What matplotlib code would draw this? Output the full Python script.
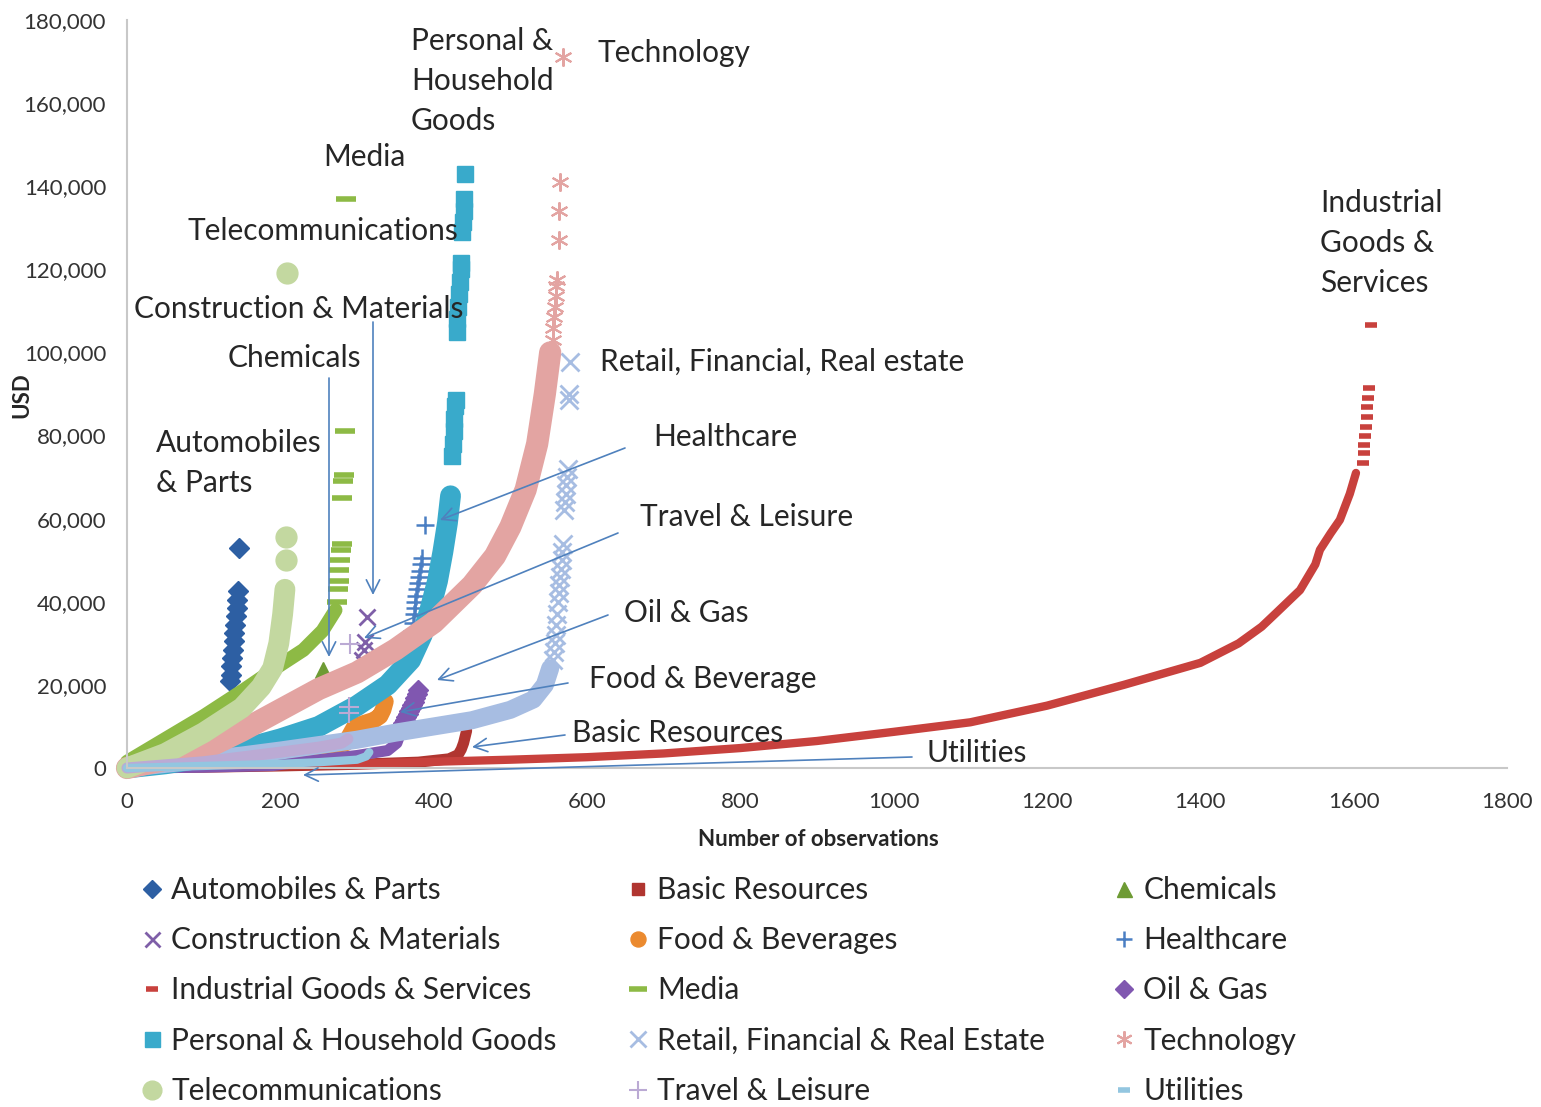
import matplotlib
matplotlib.use("Agg")
import matplotlib.pyplot as plt
from matplotlib.lines import Line2D
from matplotlib.ticker import FuncFormatter

plt.rcParams['font.family'] = ['Lato', 'DejaVu Sans']

W, H, DPI = 1541, 1107, 100

# ---------------- data ----------------
# each sector: sorted observations; "body" = dense part, "tail" = separated top markers
auto_x = [0, 40, 80, 110, 125, 132]
auto_y = [0, 1500, 4000, 7000, 10000, 11500]
auto_tx = [134, 135, 136, 137, 138, 139, 140, 141, 142, 143, 144, 145, 146]
auto_ty = [21000, 22500, 24500, 26500, 28500, 30500, 32500, 34500, 36500, 38500, 40500, 42500, 53000]

basic_x = [0, 100, 200, 300, 380, 420, 432, 436, 439, 441, 443]
basic_y = [0, 200, 500, 900, 1400, 2200, 3200, 4500, 6000, 7500, 9000]
basic_tx = []
basic_ty = []

chem_x = [0, 50, 100, 150, 200, 245]
chem_y = [0, 1500, 4000, 8500, 13500, 18000]
chem_tx = [256]
chem_ty = [23600]

constr_x = [0, 50, 100, 150, 200, 250, 300, 305]
constr_y = [0, 1500, 4000, 8500, 13500, 18500, 22500, 24000]
constr_tx = [307, 309, 311, 313]
constr_ty = [26000, 28500, 30300, 36300]

food_x = [0, 50, 100, 150, 200, 250, 285, 297, 310, 322, 330, 334, 337]
food_y = [0, 800, 1600, 2500, 3500, 4800, 6000, 10000, 10800, 11500, 12500, 14000, 16000]
food_tx = []
food_ty = []

health_x = [0, 100, 200, 300, 340, 365, 370]
health_y = [0, 2000, 5500, 13500, 18500, 25000, 30000]
health_tx = [372, 373, 374, 375, 376, 377, 378, 379, 381, 382, 383, 385, 389]
health_ty = [33000, 35000, 37000, 38500, 40000, 41500, 43000, 44500, 46000, 47500, 49000, 50500, 58500]

indus_x = [0, 100, 200, 300, 400, 500, 600, 700, 800, 900, 1000, 1100, 1200, 1300, 1400,
           1450, 1480, 1500, 1530, 1550, 1556, 1570, 1582, 1595, 1603]
indus_y = [0, 300, 600, 1000, 1500, 2000, 2600, 3500, 4800, 6500, 8700, 11000, 15000, 20000, 25300,
           30000, 34000, 37500, 42800, 49000, 52500, 56500, 59700, 66000, 71000]
indus_tx = [1612, 1613, 1614, 1615, 1616, 1617, 1618, 1619, 1620, 1622]
indus_ty = [73400, 75800, 77700, 80000, 82000, 84500, 86900, 89000, 91400, 106600]

media_x = [0, 50, 100, 150, 200, 230, 255, 272]
media_y = [1500, 7000, 12500, 18500, 24800, 28400, 33000, 38000]
media_tx = [274, 275, 276, 277, 278, 279, 280, 281, 282, 283, 284, 285]
media_ty = [40000, 43000, 45000, 47600, 50000, 52500, 54000, 65000, 69000, 70500, 81000, 137000]

oil_x = [0, 100, 190, 250, 300, 340, 352, 358]
oil_y = [0, 200, 600, 2000, 3000, 4200, 6000, 9000]
oil_tx = [360, 362, 364, 366, 368, 370, 372, 374, 376, 378, 380]
oil_ty = [10800, 11500, 12300, 13000, 13800, 14500, 15200, 16000, 16800, 17800, 18800]

pers_x = [0, 50, 100, 150, 200, 250, 300, 340, 370, 385, 395, 405, 412, 418, 422]
pers_y = [0, 1000, 2500, 4500, 7000, 10000, 15000, 20000, 26000, 32000, 38000, 45000, 52000, 59000, 65500]
pers_tx = [424, 425, 426, 427, 428, 429, 430, 431, 432, 433, 434, 435, 436, 437, 438,
           439, 440, 441]
pers_ty = [75000, 78000, 81000, 84000, 87000, 88500, 105000, 108000, 111000, 114000, 117000,
           120000, 121500, 129000, 131500, 134000, 137000, 143000]

retail_x = [0, 50, 100, 150, 200, 250, 300, 350, 400, 450, 500, 530, 545, 552]
retail_y = [0, 1000, 2000, 3000, 4200, 5500, 6800, 8500, 10000, 11500, 14000, 16500, 20000, 24000]
retail_tx = [556, 557, 558, 559, 560, 561, 562, 563, 564, 565, 566, 567, 568, 569, 570, 571,
             572, 573, 574, 575, 576, 577, 578]
retail_ty = [26000, 28000, 30000, 32000, 34500, 37000, 40000, 42000, 44000, 46000, 48000, 50000,
             52000, 54000, 62000, 64000, 66000, 68000, 70000, 72000, 88500, 90000, 97700]

tech_x = [0, 50, 100, 150, 200, 250, 300, 350, 400, 450, 480, 500, 520, 535, 545, 552]
tech_y = [0, 2000, 4500, 9000, 14000, 19000, 23000, 28500, 35000, 44000, 51000, 58000, 67000,
          78000, 90000, 100000]
tech_tx = [555, 556, 557, 558, 559, 560, 561, 563, 564, 565, 569]
tech_ty = [103000, 106000, 108500, 111000, 113500, 116000, 117500, 127000, 134000, 141000, 171000]

tele_x = [0, 50, 100, 150, 175, 190, 198, 203, 206]
tele_y = [0, 3500, 8500, 14500, 19500, 24000, 30000, 37000, 43000]
tele_tx = [207, 208, 209]
tele_ty = [50000, 55600, 119000]

travel_x = [0, 100, 200, 250, 280, 288]
travel_y = [0, 1500, 3800, 5000, 6000, 7000]
travel_tx = [289, 290, 291]
travel_ty = [13200, 14700, 29800]

util_x = [0, 100, 200, 250, 300, 312, 316]
util_y = [0, 500, 1000, 1400, 2000, 2800, 3800]
util_tx = []
util_ty = []

x_ticks = [0, 200, 400, 600, 800, 1000, 1200, 1400, 1600, 1800]
y_ticks = [0, 20000, 40000, 60000, 80000, 100000, 120000, 140000, 160000, 180000]

# ---------------- styling ----------------
ASTER = (6, 2, 0)
series = [
    ("Automobiles & Parts", auto_x, auto_y, auto_tx, auto_ty, '#2D5FA3', 'D', 10, 1, 6),
    ("Basic Resources", basic_x, basic_y, basic_tx, basic_ty, '#B03530', 's', 9, 1, 8),
    ("Chemicals", chem_x, chem_y, chem_tx, chem_ty, '#6E9B34', '^', 12, 1, 6),
    ("Construction & Materials", constr_x, constr_y, constr_tx, constr_ty, '#7F5FA8', 'x', 12, 2, 6),
    ("Food & Beverages", food_x, food_y, food_tx, food_ty, '#EB8A2F', 'o', 12, 1, 12),
    ("Healthcare", health_x, health_y, health_tx, health_ty, '#4A7EC3', '+', 13, 1.8, 5),
    ("Industrial Goods & Services", indus_x, indus_y, indus_tx, indus_ty, '#C8413D', '_', 9, 4, 6),
    ("Media", media_x, media_y, media_tx, media_ty, '#8DBA45', '_', 14, 4, 10),
    ("Oil & Gas", oil_x, oil_y, oil_tx, oil_ty, '#8057B0', 'D', 10, 1, 8),
    ("Personal & Household Goods", pers_x, pers_y, pers_tx, pers_ty, '#39AACB', 's', 12, 1, 15),
    ("Retail, Financial & Real Estate", retail_x, retail_y, retail_tx, retail_ty, '#A7BDE2', 'x', 13, 2, 13),
    ("Technology", tech_x, tech_y, tech_tx, tech_ty, '#E3A4A2', ASTER, 13, 1.5, 16),
    ("Telecommunications", tele_x, tele_y, tele_tx, tele_ty, '#C3D8A0', 'o', 15, 1, 15),
    ("Travel & Leisure", travel_x, travel_y, travel_tx, travel_ty, '#BBAAD4', '+', 14, 1.5, 8),
    ("Utilities", util_x, util_y, util_tx, util_ty, '#93C6E0', '_', 10, 4, 6),
]

fig = plt.figure(figsize=(W / DPI, H / DPI), dpi=DPI)
ax = fig.add_axes([127 / W, 1 - 768 / H, 1380 / W, 748 / H])

handles = []
for i, (label, bx, by, tx, ty, c, m, ms, mew, lw) in enumerate(series):
    z = 2 + i * 0.01
    ax.plot(bx, by, color=c, lw=lw, solid_capstyle='round', solid_joinstyle='round',
            clip_on=False, zorder=z)
    ax.plot(tx, ty, ls='none', marker=m, ms=ms, color=c, mec=c, mew=mew, clip_on=False, zorder=z)
    handles.append(Line2D([], [], ls='none', marker=m, ms=ms * 0.9, color=c, mec=c, mew=mew, label=label))

ax.set_xlim(0, 1800)
ax.set_ylim(0, 180000)
ax.set_xticks(x_ticks)
ax.set_yticks(y_ticks)
ax.yaxis.set_major_formatter(FuncFormatter(lambda v, p: f"{int(v):,}"))
ax.tick_params(length=0, labelsize=16, colors='#333333')
ax.tick_params(axis='y', pad=15)
ax.tick_params(axis='x', pad=17)
for s in ['top', 'right']:
    ax.spines[s].set_visible(False)
for s in ['left', 'bottom']:
    ax.spines[s].set_color('#C8C8C8')
    ax.spines[s].set_linewidth(1.5)

fig.text(22 / W, 1 - 395 / H, 'USD', rotation=90, weight='bold', fontsize=16,
         ha='center', va='center', color='#262626')
fig.text(818 / W, 1 - 840 / H, 'Number of observations', weight='bold', fontsize=16,
         ha='center', va='center', color='#262626')

# ---------------- annotations ----------------
def px2d(px, py):
    return ((px - 127) / (1380 / 1800), (768 - py) / (748 / 180000))

TXT = '#262626'
labels = [
    ("Personal &\nHousehold\nGoods", 411, 81),
    ("Technology", 598, 53),
    ("Media", 323, 157),
    ("Telecommunications", 188, 231),
    ("Construction & Materials", 134, 309),
    ("Chemicals", 228, 358),
    ("Automobiles\n& Parts", 156, 463),
    ("Industrial\nGoods &\nServices", 1320, 243),
    ("Retail, Financial, Real estate", 600, 362),
    ("Healthcare", 653, 437),
    ("Travel & Leisure", 640, 517),
    ("Oil & Gas", 624, 613),
    ("Food & Beverage", 589, 679),
    ("Basic Resources", 572, 733),
    ("Utilities", 927, 753),
]
for t, px, py in labels:
    fig.text(px / W, 1 - py / H, t, fontsize=21.5, color=TXT, ha='left', va='center',
             linespacing=1.52, zorder=10)

AC = '#4F81BD'
arrows = [
    ((329, 378), (329, 657)),
    ((373, 322), (373, 595)),
    ((625, 448), (440, 520)),
    ((618, 533), (364, 638)),
    ((608, 615), (437, 680)),
    ((568, 683), (400, 712)),
    ((565, 735), (472, 747)),
    ((912, 757), (303, 775)),
]
for (sx, sy), (ex, ey) in arrows:
    ax.annotate('', xy=px2d(ex, ey), xytext=px2d(sx, sy), xycoords='data', textcoords='data',
                arrowprops=dict(arrowstyle='->', color=AC, lw=1.2, mutation_scale=24,
                                shrinkA=0, shrinkB=0),
                annotation_clip=False, zorder=9)

# ---------------- legend (3 columns, row-major order) ----------------
col_x = [140, 626, 1112]
for ci in range(3):
    hs = handles[ci::3]
    fig.legend(handles=hs, loc='upper left', bbox_to_anchor=(col_x[ci] / W, 1 - 876 / H),
               frameon=False, fontsize=21.5, handlelength=0.8, handletextpad=0.25,
               labelspacing=0.745, borderpad=0, borderaxespad=0, labelcolor=TXT)

fig.savefig('out.png', dpi=DPI)
